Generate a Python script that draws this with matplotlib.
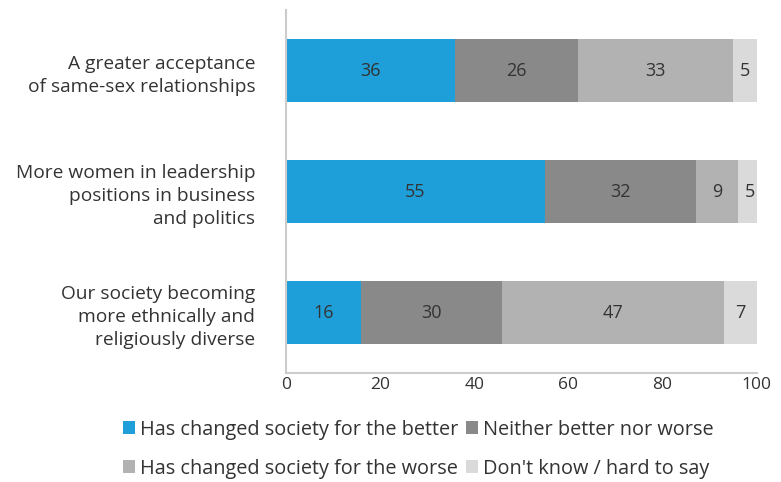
import numpy as np
import matplotlib.pyplot as plt

plt.rcParams['font.family'] = ['Open Sans', 'DejaVu Sans']

categories = ["A greater acceptance\nof same-sex relationships",
              "More women in leadership\npositions in business\nand politics",
              "Our society becoming\nmore ethnically and\nreligiously diverse"]
series_names = ["Has changed society for the better", "Neither better nor worse",
                "Has changed society for the worse", "Don't know / hard to say"]
better = [36, 55, 16]
neither = [26, 32, 30]
worse = [33, 9, 47]
dont_know = [5, 5, 7]
colors = ["#1e9fd9", "#898989", "#b2b2b2", "#dadada"]

fig = plt.figure(figsize=(7.81, 4.82), dpi=100)
ax = fig.add_axes([0.366, 0.226, 0.603, 0.753])

y = np.arange(len(categories))
left = np.zeros(len(categories))
handles = []
for vals, name, col in zip([better, neither, worse, dont_know], series_names, colors):
    bars = ax.barh(y, vals, left=left, height=0.52, color=col, label=name)
    handles.append(bars)
    for yi, v, l in zip(y, vals, left):
        ax.text(l + v / 2, yi, str(v), ha='center', va='center',
                fontsize=13, color='#333333')
    left = left + np.array(vals)

ax.set_xlim(0, 100)
ax.set_ylim(2.5, -0.5)
ax.set_yticks(y)
ax.set_yticklabels(categories, fontsize=13.8, color='#333333', multialignment='right',
                   linespacing=1.35)
ax.set_xticks([0, 20, 40, 60, 80, 100])
ax.tick_params(axis='x', labelsize=12.5, labelcolor='#333333', length=0, pad=3)
ax.tick_params(axis='y', length=0, pad=22)
for s in ['top', 'right']:
    ax.spines[s].set_visible(False)
for s in ['left', 'bottom']:
    ax.spines[s].set_color('#cccccc')
    ax.spines[s].set_linewidth(1.5)

# matplotlib fills legend columns first, so reorder to get row-wise layout
order = [0, 2, 1, 3]
fig.legend(handles=[handles[i] for i in order], labels=[series_names[i] for i in order],
           loc='lower center', bbox_to_anchor=(0.536, -0.03), ncol=2, frameon=False,
           fontsize=14.3, handlelength=0.6, handleheight=0.6,
           handletextpad=0.25, columnspacing=0.4, labelspacing=0.95,
           labelcolor='#333333')

fig.savefig("out.png", dpi=100)
